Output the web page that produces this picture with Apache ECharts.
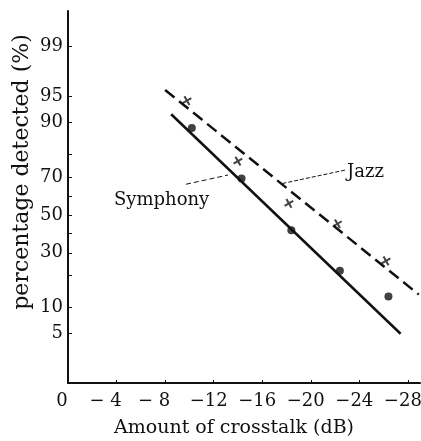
<!DOCTYPE html>
<html>
<head>
<meta charset="utf-8">
<script src="https://cdn.jsdelivr.net/npm/echarts@6/dist/echarts.min.js"></script>
<style>
  html, body { margin: 0; padding: 0; background: #fff; }
  #chart { width: 421px; height: 441px; }
</style>
</head>
<body>
<div id="chart"></div>
<script>
// data (dB, percent detected)
var symphonyDb = [-10.2, -14.3, -18.4, -22.4, -26.4];
var symphonyPct = [88.5, 69.2, 41.5, 22.0, 12.9];
var jazzDb = [-9.8, -14.0, -18.2, -22.2, -26.2];
var jazzPct = [94.3, 77.1, 56.3, 45.1, 26.2];

// fitted straight lines (end points)
var symphonyLineDb = [-8.5, -27.4];
var symphonyLinePct = [91.8, 5.0];
var jazzLineDb = [-8.0, -28.9];
var jazzLinePct = [95.8, 13.5];

// axis ticks
var xTicks = [0, -4, -8, -12, -16, -20, -24, -28];
var yLabels = [5, 10, 30, 50, 70, 90, 95, 99];
var yTicks = [5, 10, 20, 30, 40, 50, 60, 70, 80, 90, 95, 99];

// 正規確率目盛: percent -> z (Acklam inverse normal)
function probit(pct) {
    var p = pct / 100;
    var a = [-39.69683028665376, 220.9460984245205, -275.9285104469687, 138.3577518672690, -30.66479806614716, 2.506628277459239];
    var b = [-54.47609879822406, 161.5858368580409, -155.6989798598866, 66.80131188771972, -13.28068155288572];
    var c = [-0.007784894002430293, -0.3223964580411365, -2.400758277161838, -2.549732539343734, 4.374664141464968, 2.938163982698783];
    var d = [0.007784695709041462, 0.3224671290700398, 2.445134137142996, 3.754408661907416];
    var q, r;
    if (p < 0.02425) {
        q = Math.sqrt(-2 * Math.log(p));
        return (((((c[0]*q+c[1])*q+c[2])*q+c[3])*q+c[4])*q+c[5]) / ((((d[0]*q+d[1])*q+d[2])*q+d[3])*q+1);
    }
    if (p > 1 - 0.02425) {
        q = Math.sqrt(-2 * Math.log(1 - p));
        return -(((((c[0]*q+c[1])*q+c[2])*q+c[3])*q+c[4])*q+c[5]) / ((((d[0]*q+d[1])*q+d[2])*q+d[3])*q+1);
    }
    q = p - 0.5;
    r = q * q;
    return (((((a[0]*r+a[1])*r+a[2])*r+a[3])*r+a[4])*r+a[5])*q / (((((b[0]*r+b[1])*r+b[2])*r+b[3])*r+b[4])*r+1);
}

function pairs(xs, ps) {
    return xs.map(function (x, i) { return [x, probit(ps[i])]; });
}

function pctLabel(z) {
    var best = yLabels[0];
    yLabels.forEach(function (p) {
        if (Math.abs(probit(p) - z) < Math.abs(probit(best) - z)) best = p;
    });
    return String(best);
}

var font = 'DejaVu Serif';
var ink = '#111';
var cross = 'path://M4,0H6V4H10V6H6V10H4V6H0V4H4Z';

var myChart = echarts.init(document.getElementById('chart'));

var option = {
    backgroundColor: '#fff',
    animation: false,
    grid: { left: 68, right: 1, top: 11, bottom: 58, outerBoundsMode: 'none', containLabel: false },
    xAxis: {
        type: 'value',
        min: -29,
        max: 0,
        inverse: true,
        name: 'Amount of crosstalk (dB)',
        nameLocation: 'middle',
        nameGap: 36,
        nameTextStyle: { fontFamily: font, fontSize: 19, color: ink, padding: [0, 20, 0, 0] },
        axisLine: { onZero: false, lineStyle: { color: ink, width: 2 } },
        axisTick: { inside: true, length: 3, customValues: xTicks, lineStyle: { color: ink, width: 1 } },
        axisLabel: {
            customValues: xTicks,
            margin: 9,
            fontFamily: font,
            fontSize: 18,
            color: ink,
            formatter: function (v) {
                if (v === 0) return '{z|0}';
                if (v > -10) return '{a|− ' + (-v) + '}';
                return '{b|−' + (-v) + '}';
            },
            rich: {
                z: { fontFamily: font, fontSize: 18, color: ink, padding: [0, 12, 0, 0] },
                a: { fontFamily: font, fontSize: 18, color: ink, padding: [0, 22, 0, 0] },
                b: { fontFamily: font, fontSize: 18, color: ink, padding: [0, 10, 0, 0] }
            }
        },
        splitLine: { show: false }
    },
    yAxis: {
        type: 'value',
        min: probit(1.0),
        max: probit(99.76),
        axisLine: { onZero: false, lineStyle: { color: ink, width: 2 } },
        axisTick: { inside: true, length: 4, customValues: yTicks.map(probit), lineStyle: { color: ink, width: 1 } },
        axisLabel: {
            customValues: yLabels.map(probit),
            margin: 5,
            fontFamily: font,
            fontSize: 18,
            color: ink,
            formatter: pctLabel
        },
        splitLine: { show: false }
    },
    graphic: [
        {
            type: 'text', x: 22, y: 172, rotation: Math.PI / 2,
            style: { text: 'percentage detected (%)', font: '22px "DejaVu Serif"', fill: ink, align: 'center', verticalAlign: 'middle' }
        },
        {
            type: 'text', x: 114, y: 200,
            style: { text: 'Symphony', font: '18px "DejaVu Serif"', fill: ink, align: 'left', verticalAlign: 'middle' }
        },
        {
            type: 'text', x: 347, y: 172,
            style: { text: 'Jazz', font: '18px "DejaVu Serif"', fill: ink, align: 'left', verticalAlign: 'middle' }
        }
    ],
    series: [
        {
            name: 'Symphony line',
            type: 'line',
            data: pairs(symphonyLineDb, symphonyLinePct),
            showSymbol: false,
            lineStyle: { color: ink, width: 2.5 },
            markLine: {
                silent: true,
                symbol: ['none', 'none'],
                label: { show: false },
                lineStyle: { color: ink, width: 1, type: [5, 3] },
                data: [[{ coord: [-9.72, probit(66.4)] }, { coord: [-13.18, probit(70.9)] }]]
            }
        },
        {
            name: 'Jazz line',
            type: 'line',
            data: pairs(jazzLineDb, jazzLinePct),
            showSymbol: false,
            lineStyle: { color: ink, width: 2.5, type: [12, 6] },
            markLine: {
                silent: true,
                symbol: ['none', 'none'],
                label: { show: false },
                lineStyle: { color: ink, width: 1, type: [4, 2] },
                data: [[{ coord: [-22.82, probit(73.2)] }, { coord: [-17.6, probit(66.7)] }]]
            }
        },
        {
            name: 'Symphony',
            type: 'scatter',
            data: pairs(symphonyDb, symphonyPct),
            symbol: 'circle',
            symbolSize: 8,
            itemStyle: { color: ink }
        },
        {
            name: 'Jazz',
            type: 'scatter',
            data: pairs(jazzDb, jazzPct),
            symbol: cross,
            symbolSize: 10,
            symbolRotate: 30,
            itemStyle: { color: ink }
        }
    ]
};

myChart.setOption(option);

window.onresize = function () {
    myChart.resize();
};
</script>
</body>
</html>
